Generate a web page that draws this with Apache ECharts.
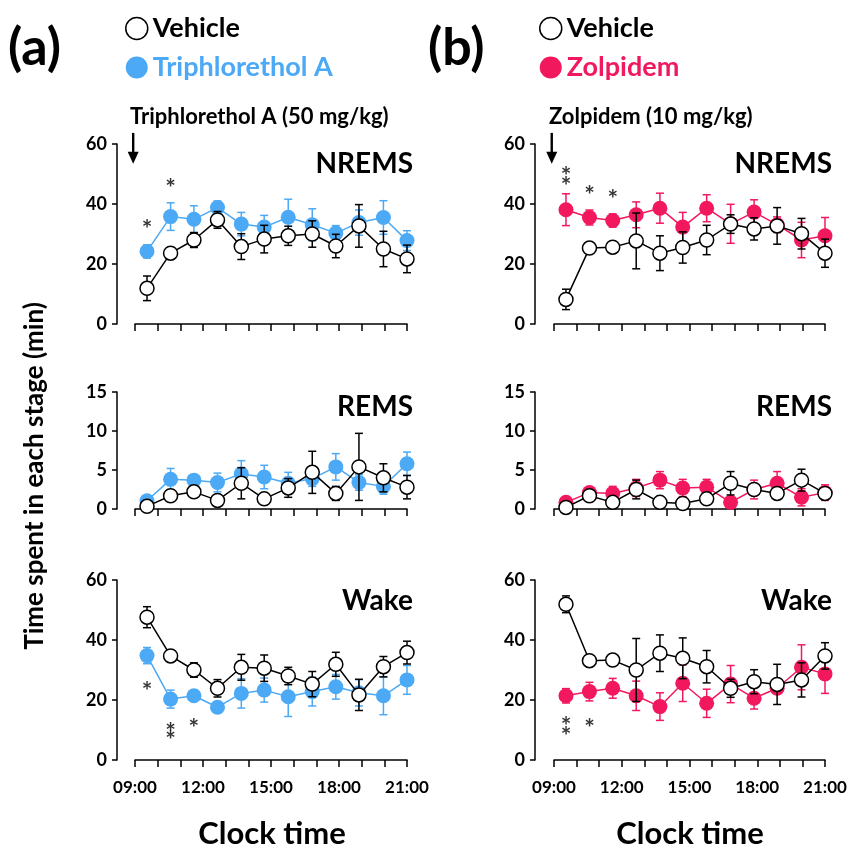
<!DOCTYPE html>
<html>
<head>
<meta charset="utf-8">
<script src="https://cdn.jsdelivr.net/npm/echarts@6/dist/echarts.min.js"></script>
<style>html,body{margin:0;padding:0;background:#fff;}#chart{width:853px;height:850px;}</style>
</head>
<body>
<div id="chart"></div>
<script>
// ---- data ----
var hours = [9.53, 10.57, 11.6, 12.64, 13.69, 14.7, 15.76, 16.82, 17.86, 18.88, 19.96, 21.0];
var labelHours = [9, 12, 15, 18, 21];
var tickLabels = ['09:00', '12:00', '15:00', '18:00', '21:00'];

// Panel (a): Vehicle vs Triphlorethol A
var nremsVehA = [11.9, 23.6, 28.0, 34.7, 25.8, 28.3, 29.4, 30.0, 26.0, 32.7, 25.0, 21.7];
var nremsVehAErr = [4.1, 1.5, 2.5, 2.8, 4.3, 4.6, 3.2, 4.4, 3.9, 7.1, 5.9, 4.6];
var nremsTri = [24.2, 35.8, 34.9, 38.8, 33.3, 32.3, 35.6, 33.1, 30.3, 33.8, 35.5, 27.8];
var nremsTriErr = [2.2, 4.6, 4.5, 2.2, 3.9, 3.9, 6.0, 5.3, 2.5, 4.2, 5.6, 3.3];
var remsVehA = [0.34, 1.7, 2.2, 1.1, 3.3, 1.3, 2.7, 4.7, 2.0, 5.4, 4.0, 2.8];
var remsVehAErr = [0.2, 0.3, 0.3, 0.4, 2.0, 0.3, 1.2, 2.7, 0.9, 4.3, 1.8, 1.5];
var remsTri = [1.06, 3.8, 3.7, 3.4, 4.5, 4.1, 3.3, 3.9, 5.4, 3.4, 2.9, 5.8];
var remsTriErr = [0.3, 1.4, 0.6, 1.2, 1.7, 1.5, 1.4, 1.0, 1.7, 1.0, 1.0, 1.5];
var wakeVehA = [47.6, 34.7, 30.0, 23.9, 30.9, 30.6, 28.0, 25.3, 31.9, 21.7, 31.1, 35.8];
var wakeVehAErr = [3.5, 1.0, 2.4, 2.9, 4.3, 4.4, 2.9, 4.2, 4.0, 5.2, 3.4, 3.8];
var wakeTri = [34.8, 20.3, 21.4, 17.6, 22.2, 23.3, 21.1, 22.8, 24.4, 22.4, 21.4, 26.7];
var wakeTriErr = [2.7, 3.0, 1.0, 1.0, 4.9, 4.0, 6.6, 4.8, 4.1, 4.4, 6.3, 4.8];

// Panel (b): Vehicle vs Zolpidem
var nremsVehB = [8.2, 25.3, 25.6, 27.7, 23.6, 25.5, 28.0, 33.3, 31.7, 32.7, 30.1, 23.6];
var nremsVehBErr = [3.4, 1.0, 1.0, 9.3, 5.8, 5.2, 4.9, 3.1, 3.7, 6.1, 5.1, 4.7];
var nremsZol = [38.1, 35.5, 34.5, 36.4, 38.6, 32.3, 38.6, 33.4, 37.3, 33.1, 28.0, 29.4];
var nremsZolErr = [5.3, 2.5, 2.2, 4.3, 5.0, 4.9, 4.5, 6.5, 4.1, 2.6, 5.9, 6.1];
var remsVehB = [0.2, 1.7, 0.85, 2.5, 0.85, 0.7, 1.3, 3.3, 2.5, 2.0, 3.7, 2.0];
var remsVehBErr = [0.2, 0.5, 0.3, 1.2, 0.2, 0.2, 0.3, 1.5, 0.4, 0.3, 1.4, 0.4];
var remsZol = [0.85, 2.1, 2.0, 2.7, 3.7, 2.7, 2.8, 0.85, 2.5, 3.3, 1.5, 2.1];
var remsZolErr = [0.2, 0.3, 0.9, 1.1, 1.1, 1.1, 1.0, 0.3, 1.2, 1.5, 1.1, 1.0];
var wakeVehB = [51.9, 33.1, 33.3, 30.0, 35.6, 33.9, 31.1, 23.9, 26.1, 25.2, 26.7, 34.7];
var wakeVehBErr = [2.8, 0.8, 0.8, 10.5, 6.1, 6.8, 5.4, 3.0, 4.0, 6.7, 5.7, 4.4];
var wakeZol = [21.4, 22.8, 23.9, 21.4, 17.8, 25.6, 18.9, 25.3, 20.6, 23.9, 30.9, 28.7];
var wakeZolErr = [2.4, 3.1, 3.3, 4.9, 4.6, 6.1, 4.7, 6.2, 3.6, 1.7, 7.5, 6.5];

// significance asterisks [time, value]
var starsNremsA = [[9.53, 33.3], [10.57, 47.1]];
var starsNremsB = [[9.53, 51.1], [9.53, 47.7], [10.57, 44.7], [11.6, 43.3]];
var starsWakeA = [[9.53, 24.7], [10.57, 11.1], [10.57, 8.3], [11.6, 12.4]];
var starsWakeB = [[9.53, 13.0], [9.53, 9.7], [10.57, 12.2]];

// drug administration arrow [time, fromValue, toValue]
var arrowA = [8.92, 63.7, 53.4];
var arrowB = [8.9, 63.7, 53.4];

// ---- styling ----
var FONT = 'Lato, "Open Sans", sans-serif';
var BLUE = '#4CA9F5';
var PINK = '#F2185E';

var chart = echarts.init(document.getElementById('chart'), null, {renderer: 'canvas'});

var panels = [
  {top: 144, height: 180, max: 60, interval: 20, xOff: 6},
  {top: 392, height: 117, max: 15, interval: 5, xOff: 12},
  {top: 580, height: 180, max: 60, interval: 20, xOff: 7}
];
var cols = [{left: 135, width: 272, yOff: 18}, {left: 554, width: 271, yOff: 19}];

var grids = [], xAxes = [], yAxes = [];
cols.forEach(function (c, ci) {
  panels.forEach(function (p, pi) {
    grids.push({left: c.left, width: c.width, top: p.top, height: p.height, containLabel: false});
    xAxes.push({
      gridIndex: grids.length - 1, type: 'value', min: 9, max: 21, interval: 1,
      offset: p.xOff,
      axisLine: {show: true, lineStyle: {color: '#000', width: 1.5}},
      axisTick: {show: true, length: 7, lineStyle: {color: '#000', width: 1.5}},
      splitLine: {show: false},
      axisLabel: {
        show: pi === 2, color: '#000', fontFamily: FONT, fontWeight: 'bold', fontSize: 17, margin: 12,
        formatter: function (v) { var k = labelHours.indexOf(v); return k >= 0 ? tickLabels[k] : ''; }
      }
    });
    yAxes.push({
      gridIndex: grids.length - 1, type: 'value', min: 0, max: p.max, interval: p.interval,
      offset: c.yOff,
      axisLine: {show: true, lineStyle: {color: '#000', width: 1.5}},
      axisTick: {show: true, length: 5, lineStyle: {color: '#000', width: 1.5}},
      splitLine: {show: false},
      axisLabel: {color: '#000', fontFamily: FONT, fontWeight: 'bold', fontSize: 18, margin: 10}
    });
  });
});

function pairs(ys, errs) {
  return ys.map(function (y, i) { return errs ? [hours[i], y, errs[i]] : [hours[i], y]; });
}

function errSeries(idx, ys, errs, color, z) {
  return {
    type: 'custom', name: 'err', xAxisIndex: idx, yAxisIndex: idx, z: z, silent: true,
    data: pairs(ys, errs),
    renderItem: function (params, api) {
      var x = api.value(0), y = api.value(1), e = api.value(2);
      var t = api.coord([x, y + e]);
      var b = api.coord([x, y - e]);
      var hw = 4;
      var st = {stroke: color, lineWidth: 1.5};
      return {type: 'group', children: [
        {type: 'line', shape: {x1: t[0], y1: t[1], x2: b[0], y2: b[1]}, style: st},
        {type: 'line', shape: {x1: t[0] - hw, y1: t[1], x2: t[0] + hw, y2: t[1]}, style: st},
        {type: 'line', shape: {x1: b[0] - hw, y1: b[1], x2: b[0] + hw, y2: b[1]}, style: st}
      ]};
    }
  };
}

function vehSeries(idx, ys) {
  return {
    type: 'line', name: 'Vehicle', xAxisIndex: idx, yAxisIndex: idx, z: 4,
    data: pairs(ys), symbol: 'circle', symbolSize: 14,
    lineStyle: {color: '#000', width: 1.5},
    itemStyle: {color: '#fff', borderColor: '#000', borderWidth: 1.5}
  };
}

function drugSeries(idx, name, ys, color) {
  return {
    type: 'line', name: name, xAxisIndex: idx, yAxisIndex: idx, z: 2,
    data: pairs(ys), symbol: 'circle', symbolSize: 15,
    lineStyle: {color: color, width: 1.5},
    itemStyle: {color: color, borderWidth: 0}
  };
}

function starSeries(idx, pts) {
  return {
    type: 'scatter', name: 'stars', xAxisIndex: idx, yAxisIndex: idx, z: 5, silent: true,
    data: pts, symbolSize: 1, itemStyle: {color: 'rgba(0,0,0,0)'},
    label: {show: true, position: 'inside', formatter: '*', color: '#000', fontFamily: FONT,
      fontWeight: 'bold', fontSize: 25, offset: [0, 6]}
  };
}

function arrowSeries(idx, a) {
  return {
    type: 'custom', name: 'arrow', xAxisIndex: idx, yAxisIndex: idx, clip: false, silent: true, z: 6,
    data: [a],
    renderItem: function (params, api) {
      var p1 = api.coord([api.value(0), api.value(1)]);
      var p2 = api.coord([api.value(0), api.value(2)]);
      var hw = 5.5, hl = 12;
      return {type: 'group', children: [
        {type: 'line', shape: {x1: p1[0], y1: p1[1], x2: p2[0], y2: p2[1] - hl + 2}, style: {stroke: '#000', lineWidth: 2.4}},
        {type: 'polygon', shape: {points: [[p2[0] - hw, p2[1] - hl], [p2[0] + hw, p2[1] - hl], [p2[0], p2[1]]]}, style: {fill: '#000'}}
      ]};
    }
  };
}

var series = [
  // (a)
  errSeries(0, nremsTri, nremsTriErr, BLUE, 1), drugSeries(0, 'Triphlorethol A', nremsTri, BLUE),
  errSeries(0, nremsVehA, nremsVehAErr, '#000', 3), vehSeries(0, nremsVehA),
  errSeries(1, remsTri, remsTriErr, BLUE, 1), drugSeries(1, 'Triphlorethol A', remsTri, BLUE),
  errSeries(1, remsVehA, remsVehAErr, '#000', 3), vehSeries(1, remsVehA),
  errSeries(2, wakeTri, wakeTriErr, BLUE, 1), drugSeries(2, 'Triphlorethol A', wakeTri, BLUE),
  errSeries(2, wakeVehA, wakeVehAErr, '#000', 3), vehSeries(2, wakeVehA),
  starSeries(0, starsNremsA), starSeries(2, starsWakeA), arrowSeries(0, arrowA),
  // (b)
  errSeries(3, nremsZol, nremsZolErr, PINK, 1), drugSeries(3, 'Zolpidem', nremsZol, PINK),
  errSeries(3, nremsVehB, nremsVehBErr, '#000', 3), vehSeries(3, nremsVehB),
  errSeries(4, remsZol, remsZolErr, PINK, 1), drugSeries(4, 'Zolpidem', remsZol, PINK),
  errSeries(4, remsVehB, remsVehBErr, '#000', 3), vehSeries(4, remsVehB),
  errSeries(5, wakeZol, wakeZolErr, PINK, 1), drugSeries(5, 'Zolpidem', wakeZol, PINK),
  errSeries(5, wakeVehB, wakeVehBErr, '#000', 3), vehSeries(5, wakeVehB),
  starSeries(3, starsNremsB), starSeries(5, starsWakeB), arrowSeries(3, arrowB)
];

function legendFor(left, drug, color) {
  return {
    left: left, top: 10, orient: 'vertical', itemGap: 12, itemWidth: 22, itemHeight: 22,
    icon: 'circle', selectedMode: false,
    textStyle: {fontFamily: FONT, fontWeight: 'bold', fontSize: 27, color: '#000'},
    data: [
      {name: 'Vehicle', itemStyle: {color: '#fff', borderColor: '#000', borderWidth: 1.5}, textStyle: {color: '#000'}},
      {name: drug, itemStyle: {color: color, borderWidth: 0}, textStyle: {color: color}}
    ]
  };
}

function txt(x, y, text, size, align, extra) {
  var o = {type: 'text', x: x, y: y, style: {text: text, fill: '#000', font: 'bold ' + size + 'px ' + FONT,
    textAlign: align || 'left', textVerticalAlign: 'middle'}};
  if (extra) for (var k in extra) o[k] = extra[k];
  return o;
}

var graphics = [
  txt(8, 48, '(a)', 52), txt(428, 48, '(b)', 52),
  txt(130, 117, 'Triphlorethol A (50 mg/kg)', 22), txt(549, 117, 'Zolpidem (10 mg/kg)', 22),
  txt(413, 164, 'NREMS', 28, 'right'), txt(832, 164, 'NREMS', 28, 'right'),
  txt(413, 407, 'REMS', 28, 'right'), txt(832, 407, 'REMS', 28, 'right'),
  txt(413, 601, 'Wake', 28, 'right'), txt(832, 601, 'Wake', 28, 'right'),
  txt(272, 834, 'Clock time', 31, 'center'), txt(690, 834, 'Clock time', 31, 'center'),
  txt(35, 476, 'Time spent in each stage (min)', 26, 'center', {rotation: Math.PI / 2})
];

chart.setOption({
  backgroundColor: '#fff',
  animation: false,
  grid: grids, xAxis: xAxes, yAxis: yAxes,
  legend: [legendFor(120, 'Triphlorethol A', BLUE), legendFor(534, 'Zolpidem', PINK)],
  series: series,
  graphic: graphics
});
</script>
</body>
</html>
